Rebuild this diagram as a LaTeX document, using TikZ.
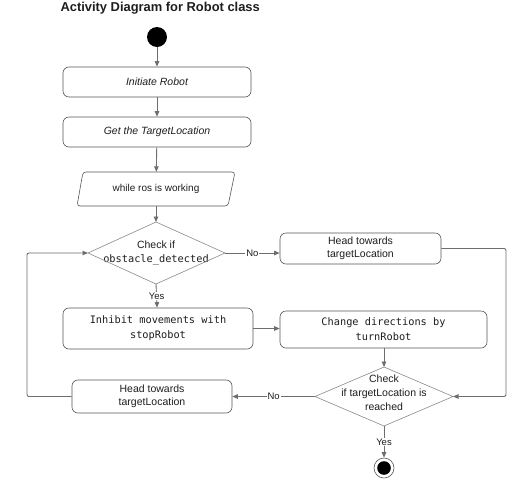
\documentclass[tikz,border=0pt]{standalone}
\usepackage{fontspec}
\setmainfont{Liberation Sans}
\setmonofont{DejaVu Sans Mono}
\usetikzlibrary{arrows.meta,calc}
\definecolor{linec}{HTML}{6E6E6E}
\definecolor{boxc}{HTML}{555555}
\definecolor{dia}{HTML}{8A8A8A}
\definecolor{txt}{HTML}{1E1E1E}
\begin{document}
\begin{tikzpicture}[x=1pt,y=-1pt,
 act/.style={draw=boxc, rounded corners=6pt, line width=0.6pt, align=center, text=txt,
   font=\fontsize{10.5}{13}\selectfont},
 mono/.style={font=\fontsize{10.3}{15}\selectfont\ttfamily},
 plain/.style={align=center, text=txt, inner sep=0pt, font=\fontsize{10.5}{14}\selectfont},
 flow/.style={draw=linec, line width=0.9pt, -{Triangle[length=5.5pt,width=4.5pt]}},
 lbl/.style={fill=white, inner sep=1pt, text=txt, font=\fontsize{9.5}{11}\selectfont}]
\useasboundingbox[fill=white] (0,0) rectangle (529,483);

\node[font=\bfseries\fontsize{12.9}{15}\selectfont, text=txt, anchor=west] (title) at (57,8) {Activity Diagram for Robot class};

\node[circle, fill=black, minimum size=20pt, inner sep=0pt] (start) at (157,37) {};

\node[act, minimum width=188pt, minimum height=30pt] (init) at (157,82) {\itshape Initiate Robot};
\node[act, minimum width=188pt, minimum height=30pt] (get) at (157,132) {\itshape Get the TargetLocation};

\node[plain, minimum width=150pt, minimum height=34pt, font=\fontsize{10}{12}\selectfont] (loop) at (156,189) {while ros is working};
\draw[boxc, line width=0.6pt, rounded corners=3pt] (83,172) -- (235,172) -- (228,206) -- (77,206) -- cycle;

% decision 1
\node[plain] (d1) at (156,253) {Check if\\{\ttfamily\fontsize{10.3}{14}\selectfont obstacle\_detected}};
\coordinate (d1t) at (156,222);
\coordinate (d1b) at (156,284);
\coordinate (d1l) at (88,253);
\coordinate (d1r) at (225,253);
\draw[dia, line width=0.6pt] (d1t) -- (d1r) -- (d1b) -- (d1l) -- cycle;

\node[act, minimum width=161pt, minimum height=31pt, align=center] (head1) at (360.5,248.5) {Head towards\\targetLocation};

\node[act, mono, minimum width=190pt, minimum height=41pt] (inhibit) at (158,328.5) {Inhibit movements with\\stopRobot};
\node[act, mono, minimum width=207pt, minimum height=37pt] (change) at (383.5,329.5) {Change directions by\\turnRobot};

% decision 2
\node[plain] (d2) at (384,393) {Check\\if targetLocation is\\reached};
\coordinate (d2t) at (384,367);
\coordinate (d2b) at (384,426);
\coordinate (d2l) at (315,396.5);
\coordinate (d2r) at (453,396.5);
\draw[dia, line width=0.6pt] (d2t) -- (d2r) -- (d2b) -- (d2l) -- cycle;

\node[act, minimum width=160pt, minimum height=33pt] (head2) at (152,396.5) {Head towards\\targetLocation};

\node[circle, draw=boxc, line width=0.6pt, minimum size=20pt, inner sep=0pt] (end) at (384,468) {};
\fill[black] (end.center) circle (6.8pt);

\coordinate (rc) at (506,248.5);
\coordinate (lc) at (27,253);

% connectors
\draw[flow] (start) -- (init);
\draw[flow] (init) -- (get);
\draw[flow] (get) -- (loop);
\draw[flow] (loop) -- (d1t);
\draw[flow] (d1r) -- node[lbl]{No} (d1r -| head1.west);
\draw[flow] (d1b) -- node[lbl]{Yes} (inhibit);
\draw[flow] (inhibit.east) -- (inhibit.east -| change.west);
\draw[flow] (change.south -| d2t) -- (d2t);
\draw[flow, rounded corners=2pt] (head1.east) -- (rc) |- (d2r);
\draw[flow] (d2l) -- node[lbl]{No} (head2);
\draw[flow, rounded corners=2pt] (head2.west) -| (lc) -- (d1l);
\draw[flow] (d2b) -- node[lbl]{Yes} (end);
\end{tikzpicture}
\end{document}
